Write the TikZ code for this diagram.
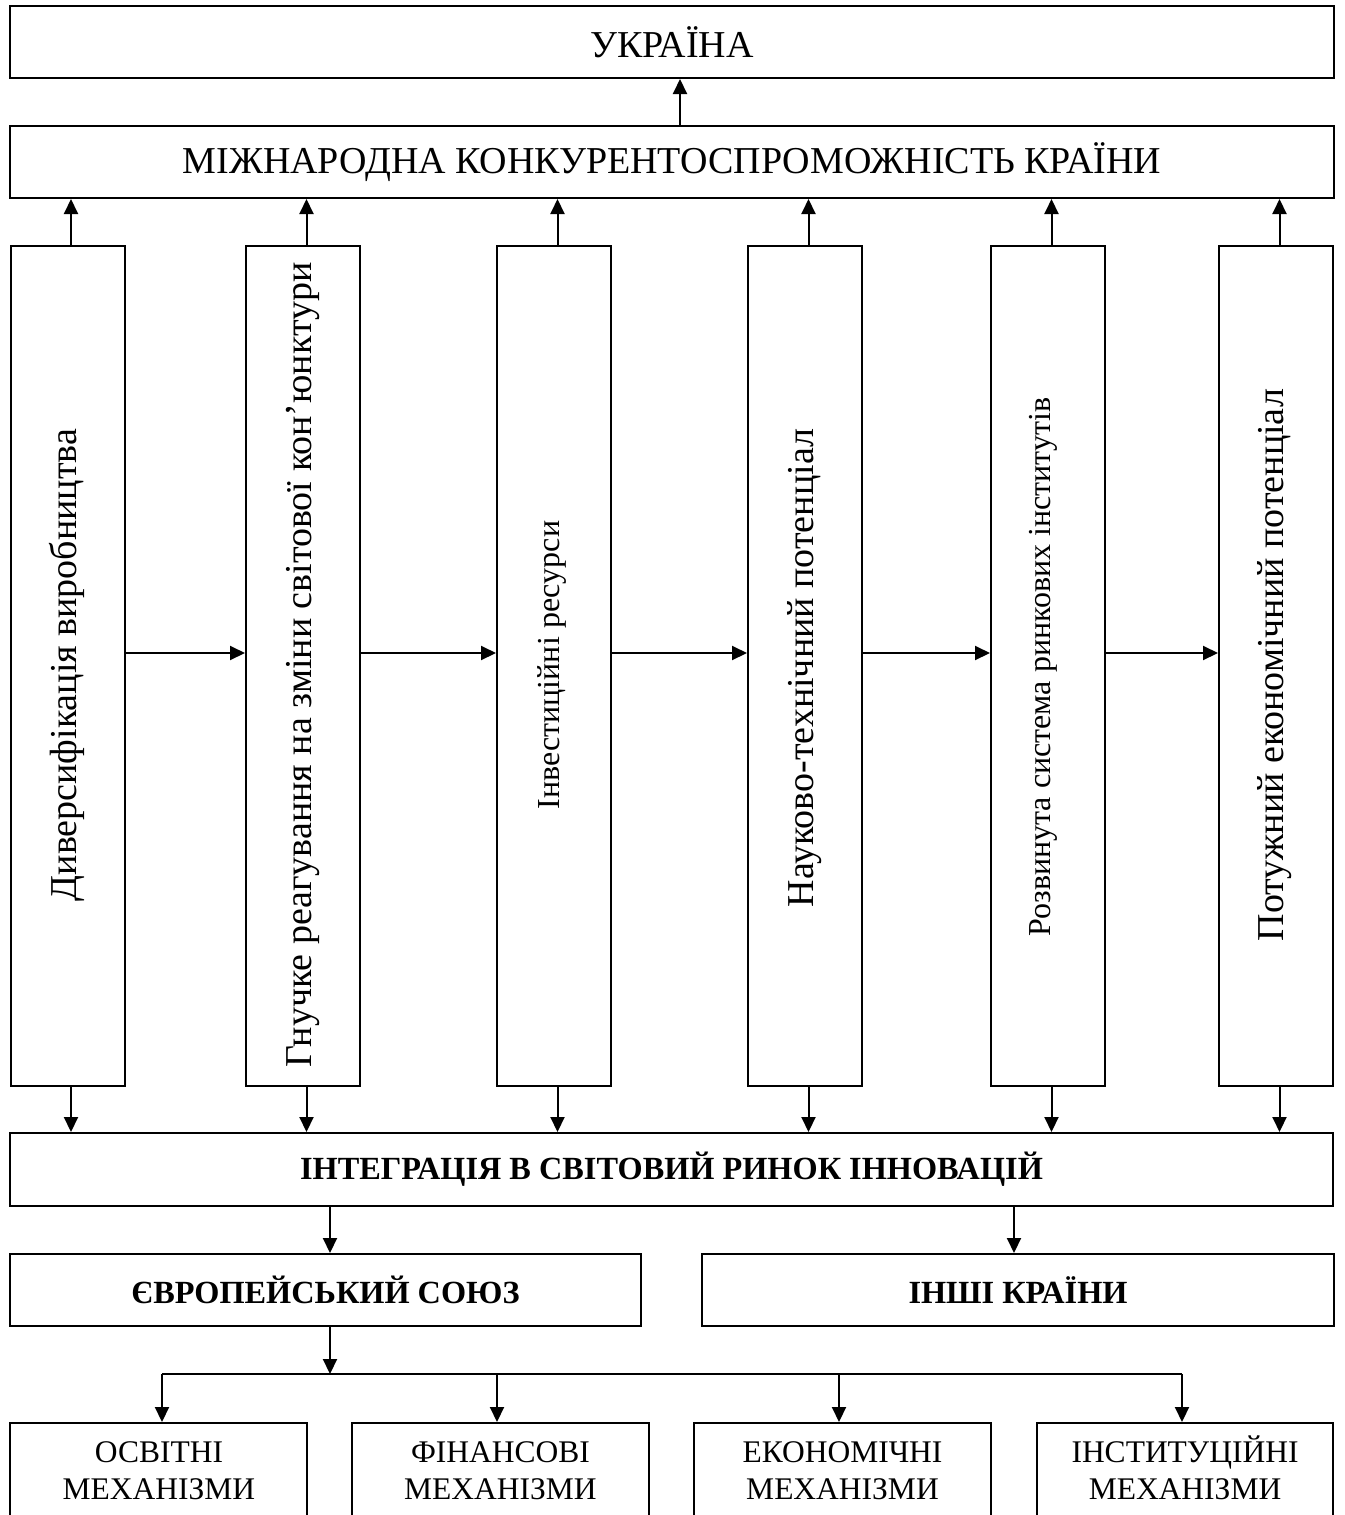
\documentclass[tikz,border=0pt]{standalone}
\usepackage{fontspec}
\setmainfont{Liberation Serif}
\usetikzlibrary{arrows.meta}
\begin{document}
\begin{tikzpicture}[x=1pt,y=-1pt,
  box/.style={draw,line width=2pt,inner sep=0pt,align=center},
  vbox/.style={box,minimum width=114pt,minimum height=840pt},
  arr/.style={line width=2pt,-{Triangle[length=15pt,width=14pt]}},
  ln/.style={line width=2pt},
  big/.style={font=\fontsize{38}{44}\selectfont},
  vbig/.style={font=\fontsize{38}{44}\selectfont,rotate=90},
  vsmall/.style={font=\fontsize{32}{38}\selectfont,rotate=90},
  bold/.style={font=\fontsize{32.3}{38}\selectfont\bfseries},
  mech/.style={font=\fontsize{31.5}{37}\selectfont,anchor=base,inner sep=0pt}]
\useasboundingbox (0,0) rectangle (1344,1515);
\clip (0,0) rectangle (1344,1515);
% top boxes
\node[box,big,minimum width=1324pt,minimum height=72pt] (ukr) at (672,42) {УКРАЇНА};
\node[box,big,minimum width=1324pt,minimum height=72pt] (mk) at (672,162) {МІЖНАРОДНА КОНКУРЕНТОСПРОМОЖНІСТЬ КРАЇНИ};
\draw[arr] ([xshift=8pt]mk.north) -- ([xshift=8pt]ukr.south);
% vertical boxes
\node[vbox] (b1) at (67.5,666) {};
\node[vbox] (b2) at (303,666) {};
\node[vbox] (b3) at (554,666) {};
\node[vbox] (b4) at (805,666) {};
\node[vbox] (b5) at (1048,666) {};
\node[vbox] (b6) at (1276,666) {};
\node[vbig] (t1) at (67,665) {Диверсифікація виробництва};
\node[vbig] (t2) at (303,665) {Гнучке реагування на зміни світової кон’юнктури};
\node[vsmall] (t3) at (552,665) {Інвестиційні ресурси};
\node[vbig] (t4) at (805,668) {Науково-технічний потенціал};
\node[vsmall] (t5) at (1043,667) {Розвинута система ринкових інститутів};
\node[vbig] (t6) at (1275,665) {Потужний економічний потенціал};
% integration box
\node[box,bold,minimum width=1323pt,minimum height=73pt] (int) at (671.5,1169.5) {ІНТЕГРАЦІЯ В СВІТОВИЙ РИНОК ІННОВАЦІЙ};
\foreach \b in {b1,b2,b3,b4,b5,b6}{
  \draw[arr] ([xshift=3.5pt]\b.north) -- ([xshift=3.5pt]\b.north |- mk.south);
  \draw[arr] ([xshift=3.5pt]\b.south) -- ([xshift=3.5pt]\b.south |- int.north);
}
\draw[arr] ([yshift=13pt]b1.east) -- ([yshift=13pt]b2.west);
\draw[arr] ([yshift=13pt]b2.east) -- ([yshift=13pt]b3.west);
\draw[arr] ([yshift=13pt]b3.east) -- ([yshift=13pt]b4.west);
\draw[arr] ([yshift=13pt]b4.east) -- ([yshift=13pt]b5.west);
\draw[arr] ([yshift=13pt]b5.east) -- ([yshift=13pt]b6.west);
% EU and others
\node[box,bold,minimum width=631pt,minimum height=72pt] (eu) at (325.5,1290) {ЄВРОПЕЙСЬКИЙ СОЮЗ};
\node[box,bold,minimum width=632pt,minimum height=72pt] (oth) at (1018,1290) {ІНШІ КРАЇНИ};
\draw[arr] (int.south -| 330,0) -- (eu.north -| 330,0);
\draw[arr] (int.south -| 1014,0) -- (oth.north -| 1014,0);
% mechanisms
\node[box,minimum width=297pt,minimum height=140pt,anchor=north] (m1) at (158.5,1422) {};
\node[box,minimum width=297pt,minimum height=140pt,anchor=north] (m2) at (500.5,1422) {};
\node[box,minimum width=297pt,minimum height=140pt,anchor=north] (m3) at (842.5,1422) {};
\node[box,minimum width=296pt,minimum height=140pt,anchor=north] (m4) at (1185,1422) {};
\node[mech] (mt1) at (159,1462) {\begin{tabular}[t]{@{}c@{}}ОСВІТНІ\\МЕХАНІЗМИ\end{tabular}};
\node[mech] (mt2) at (500.5,1462) {\begin{tabular}[t]{@{}c@{}}ФІНАНСОВІ\\МЕХАНІЗМИ\end{tabular}};
\node[mech] (mt3) at (842.5,1462) {\begin{tabular}[t]{@{}c@{}}ЕКОНОМІЧНІ\\МЕХАНІЗМИ\end{tabular}};
\node[mech] (mt4) at (1185,1462) {\begin{tabular}[t]{@{}c@{}}ІНСТИТУЦІЙНІ\\МЕХАНІЗМИ\end{tabular}};
\coordinate (jn) at (330,1374);
\draw[arr] (eu.south -| jn) -- (jn);
\draw[ln] (162,1374) -- (1182,1374);
\draw[arr] (jn -| 162,0) -- (m1.north -| 162,0);
\draw[arr] (jn -| 497,0) -- (m2.north -| 497,0);
\draw[arr] (jn -| 839,0) -- (m3.north -| 839,0);
\draw[arr] (jn -| 1182,0) -- (m4.north -| 1182,0);
\end{tikzpicture}
\end{document}
